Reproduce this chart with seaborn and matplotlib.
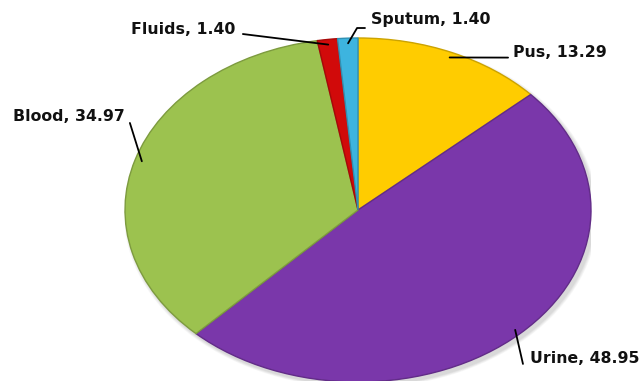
import numpy as np
import matplotlib
matplotlib.use("Agg")
import matplotlib.pyplot as plt
import matplotlib.colors as mcolors
from matplotlib.patches import Ellipse
import seaborn as sns

# Specimen share (%) by sample type, clockwise from 12 o'clock
specimens = ["Pus", "Urine", "Blood", "Fluids", "Sputum"]
shares = [13.29, 48.95, 34.97, 1.40, 1.40]
value_labels = ["13.29", "48.95", "34.97", "1.40", "1.40"]

palette = ["#FFCC00", "#7A37AA", "#9CC24F", "#D10A0A", "#3DB4DF"]

sns.set_theme(style="white")
plt.rcParams["font.family"] = ["DejaVu Sans"]

fig = plt.figure(figsize=(6.41, 3.81), dpi=100)
ax = fig.add_axes([0.1950, -0.0026, 0.7270, 0.9029])


def darker(c, f=0.8):
    r, g, b = mcolors.to_rgb(c)
    return (r * f, g * f, b * f)


# soft drop shadow under the disc
for k, a in enumerate([0.05, 0.05, 0.06, 0.07]):
    grow = 0.035 - k * 0.008
    ax.add_patch(Ellipse((0.012, -0.018), 2 + grow, 2 + grow,
                         facecolor="#555555", edgecolor="none", alpha=a, zorder=0))

wedges, _ = ax.pie(
    shares,
    colors=palette,
    startangle=90,
    counterclock=False,
    radius=1.0,
    wedgeprops=dict(linewidth=1.0),
)
for w, c in zip(wedges, palette):
    w.set_edgecolor(darker(c))
    w.set_zorder(2)

ax.set_aspect("auto")
ax.set_xlim(-1, 1)
ax.set_ylim(-1, 1)
ax.axis("off")

# mid-angle of each slice (clockwise from top), used to anchor leader lines
fractions = np.array(shares) / np.sum(shares)
ends = np.cumsum(fractions) * 360.0
mids = ends - fractions * 180.0

# label anchor (data units), alignment, and leader bend points
label_style = {
    "Pus":    dict(xy=(0.667, 0.913), ha="left",  path=[(0.644, 0.886)]),
    "Urine":  dict(xy=(0.738, -0.866), ha="left", path=[(0.708, -0.895)]),
    "Blood":  dict(xy=(-1.003, 0.541), ha="right", path=[(-0.979, 0.506)]),
    "Fluids": dict(xy=(-0.528, 1.052), ha="right", path=[(-0.494, 1.023)]),
    "Sputum": dict(xy=(0.056, 1.105), ha="left",  path=[(0.030, 1.058), (-0.004, 1.058)]),
}

for name, val, mid in zip(specimens, value_labels, mids):
    st = label_style[name]
    th = np.deg2rad(mid)
    tip = (0.97 * np.sin(th), 0.97 * np.cos(th))
    pts = st["path"] + [tip]
    xs, ys = zip(*pts)
    ax.plot(xs, ys, color="black", lw=1.3, clip_on=False, zorder=3)
    ax.text(st["xy"][0], st["xy"][1], f"{name}, {val}", ha=st["ha"], va="center",
            fontsize=11.3, fontweight="bold", color="#111111", clip_on=False, zorder=4)

fig.savefig("out.png", dpi=100, facecolor="white")
